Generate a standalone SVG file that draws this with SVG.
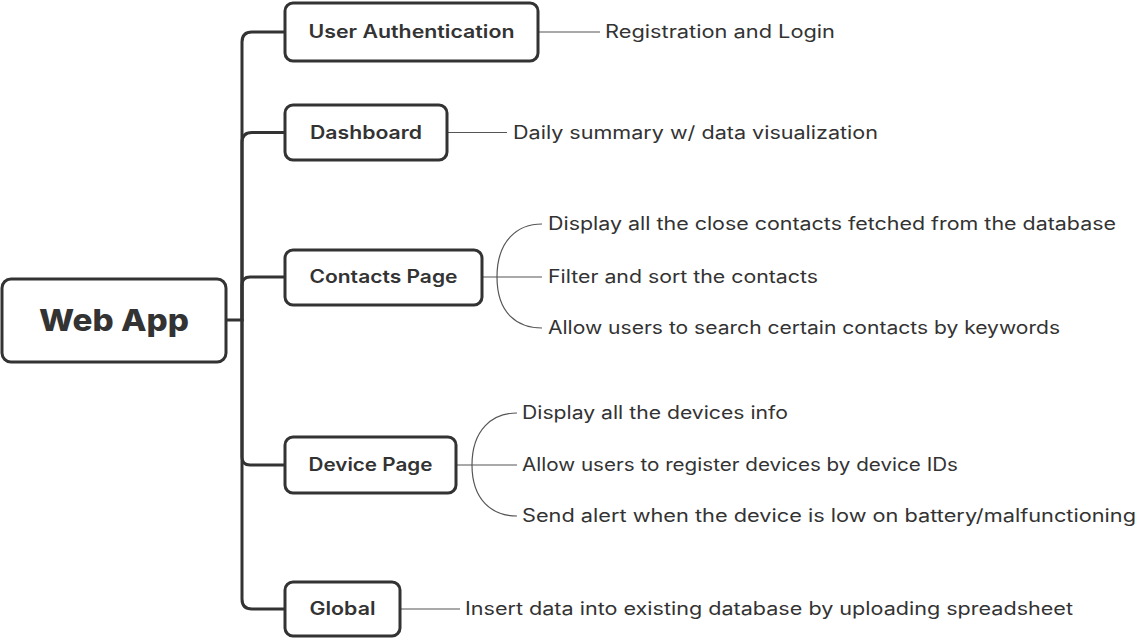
<svg xmlns="http://www.w3.org/2000/svg" width="1138" height="638" viewBox="0 0 1138 638">
  <style>
    .box { fill: #ffffff; stroke: #333333; stroke-width: 3; }
    .branch { fill: none; stroke: #333333; stroke-width: 3; stroke-linecap: round; }
    .leaf { fill: none; stroke: #555555; stroke-width: 1.2; }
    .title { font-family: Inter, "Noto Sans", "Liberation Sans", sans-serif; font-weight: 800; font-size: 30px; fill: #333333; text-anchor: middle; }
    .topic { font-family: Inter, "Noto Sans", "Liberation Sans", sans-serif; font-weight: 600; font-size: 18px; fill: #333333; text-anchor: middle; }
    .note { font-family: Inter, "Noto Sans", "Liberation Sans", sans-serif; font-weight: 400; font-size: 18px; fill: #333333; }
  </style>
  <rect width="1138" height="638" fill="#ffffff"/>

  <!-- connectors -->
  <g id="connectors">
    <!-- root to topics -->
    <path class="branch" d="M226 320 H242 V42 Q242 32 252 32 H285"/>
    <path class="branch" d="M242 320 V142.5 Q242 132.5 252 132.5 H285"/>
    <path class="branch" d="M242 320 V285 Q242 277 250 277 H285"/>
    <path class="branch" d="M242 320 V457 Q242 465 250 465 H285"/>
    <path class="branch" d="M242 320 V599 Q242 609 252 609 H285"/>
    <!-- topics to notes -->
    <path class="leaf" d="M538 32 H600"/>
    <path class="leaf" d="M447 132.5 H507"/>
    <path class="leaf" d="M482 277 H542"/>
    <path class="leaf" d="M542 224 C518 224 497 240 497 277 C497 314 518 328 542 328"/>
    <path class="leaf" d="M456 465 H517"/>
    <path class="leaf" d="M517 413 C492 413 472 430 472 465 C472 500 492 516 517 516"/>
    <path class="leaf" d="M400 609 H460"/>
  </g>

  <g id="web-app">
    <rect class="box" x="2" y="279" width="224" height="83" rx="9"/>
    <text class="title" x="114" y="331" textLength="150" lengthAdjust="spacingAndGlyphs">Web App</text>
  </g>

  <g id="user-authentication">
    <rect class="box" x="285" y="3" width="253" height="58" rx="8"/>
    <text class="topic" x="411.5" y="38" textLength="206" lengthAdjust="spacingAndGlyphs">User Authentication</text>
  </g>
  <g id="registration">
    <text class="note" x="605" y="38" textLength="230" lengthAdjust="spacingAndGlyphs">Registration and Login</text>
  </g>

  <g id="dashboard">
    <rect class="box" x="285" y="105" width="162" height="55" rx="8"/>
    <text class="topic" x="366" y="138.5" textLength="112" lengthAdjust="spacingAndGlyphs">Dashboard</text>
  </g>
  <g id="daily-summary">
    <text class="note" x="513" y="138.5" textLength="365" lengthAdjust="spacingAndGlyphs">Daily summary w/ data visualization</text>
  </g>

  <g id="contacts-page">
    <rect class="box" x="285" y="250" width="197" height="55" rx="8"/>
    <text class="topic" x="383.5" y="283" textLength="148" lengthAdjust="spacingAndGlyphs">Contacts Page</text>
  </g>
  <g id="contacts-display">
    <text class="note" x="548" y="230" textLength="568" lengthAdjust="spacingAndGlyphs">Display all the close contacts fetched from the database</text>
  </g>
  <g id="contacts-filter">
    <text class="note" x="548" y="283" textLength="270" lengthAdjust="spacingAndGlyphs">Filter and sort the contacts</text>
  </g>
  <g id="contacts-search">
    <text class="note" x="548" y="334" textLength="512" lengthAdjust="spacingAndGlyphs">Allow users to search certain contacts by keywords</text>
  </g>

  <g id="device-page">
    <rect class="box" x="285" y="437" width="171" height="56" rx="8"/>
    <text class="topic" x="370.5" y="471" textLength="124" lengthAdjust="spacingAndGlyphs">Device Page</text>
  </g>
  <g id="devices-display">
    <text class="note" x="522" y="419" textLength="266" lengthAdjust="spacingAndGlyphs">Display all the devices info</text>
  </g>
  <g id="devices-register">
    <text class="note" x="522" y="471" textLength="436" lengthAdjust="spacingAndGlyphs">Allow users to register devices by device IDs</text>
  </g>
  <g id="devices-alert">
    <text class="note" x="522" y="522" textLength="614" lengthAdjust="spacingAndGlyphs">Send alert when the device is low on battery/malfunctioning</text>
  </g>

  <g id="global">
    <rect class="box" x="285" y="582" width="115" height="54" rx="8"/>
    <text class="topic" x="342.5" y="615" textLength="66" lengthAdjust="spacingAndGlyphs">Global</text>
  </g>
  <g id="insert-data">
    <text class="note" x="465" y="615" textLength="608" lengthAdjust="spacingAndGlyphs">Insert data into existing database by uploading spreadsheet</text>
  </g>
</svg>
